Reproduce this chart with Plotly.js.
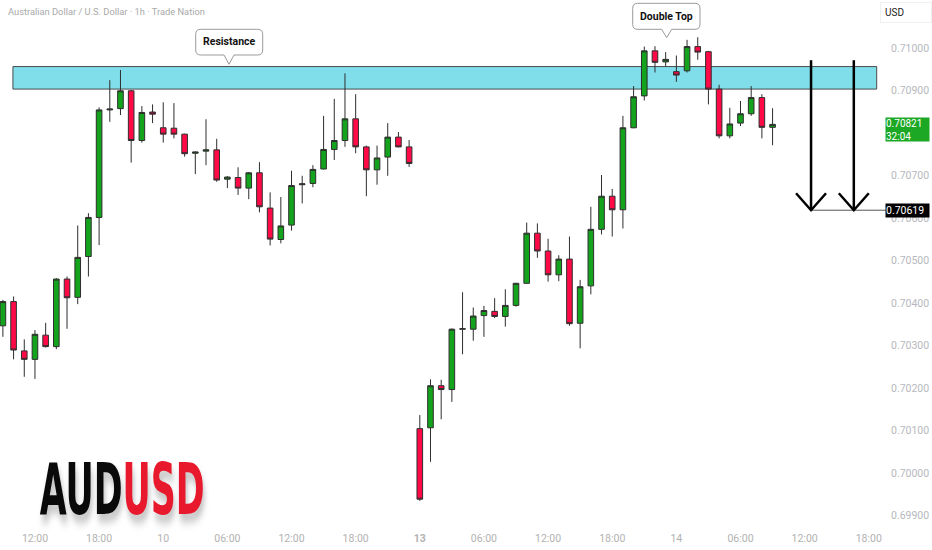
<!DOCTYPE html>
<html>
<head>
<meta charset="utf-8">
<script src="https://cdn.plot.ly/plotly-3.0.1.min.js"></script>
<style>
  html, body { margin: 0; padding: 0; background: #fff; }
  #chart { width: 932px; height: 550px; }
</style>
</head>
<body>
<div id="chart"></div>
<script>
// ---- data (hourly candles, AUD/USD 1h) ----
const opens = [0.70347,0.70404,0.70288,0.70268,0.70325,0.70298,0.70457,0.70414,0.70510,0.70602,
  0.70855,0.70858,0.70900,0.70783,0.70850,0.70813,0.70812,0.70798,0.70753,0.70758,
  0.70761,0.70692,0.70696,0.70671,0.70707,0.70624,0.70550,0.70584,0.70679,0.70682,
  0.70716,0.70762,0.70783,0.70834,0.70768,0.70714,0.70744,0.70791,0.70768,
  0.70105,0.70107,0.70206,0.70197,0.70339,0.70339,0.70371,0.70381,0.70369,0.70395,
  0.70447,0.70565,0.70523,0.70467,0.70504,0.70353,0.70441,0.70574,0.70652,0.70620,
  0.70813,0.70888,0.70994,0.70968,0.70945,0.70947,0.71004,0.70992,0.70904,0.70794,
  0.70824,0.70846,0.70884,0.70814];
const highs = [0.70408,0.70416,0.70315,0.70337,0.70354,0.70459,0.70463,0.70583,0.70612,0.70861,
  0.70925,0.70949,0.70902,0.70864,0.70868,0.70873,0.70871,0.70799,0.70757,0.70833,
  0.70787,0.70699,0.70720,0.70709,0.70732,0.70661,0.70650,0.70712,0.70700,0.70725,
  0.70841,0.70881,0.70941,0.70892,0.70771,0.70771,0.70824,0.70803,0.70784,
  0.70137,0.70221,0.70220,0.70341,0.70426,0.70390,0.70394,0.70412,0.70433,0.70448,
  0.70590,0.70588,0.70552,0.70513,0.70557,0.70455,0.70627,0.70702,0.70669,0.70841,
  0.70911,0.71004,0.71005,0.70991,0.70983,0.71020,0.71026,0.70994,0.70914,0.70860,
  0.70876,0.70911,0.70892,0.70859];
const lows = [0.70321,0.70268,0.70227,0.70222,0.70296,0.70292,0.70340,0.70398,0.70463,0.70537,
  0.70827,0.70843,0.70731,0.70778,0.70824,0.70778,0.70788,0.70745,0.70704,0.70725,
  0.70686,0.70671,0.70655,0.70645,0.70614,0.70536,0.70541,0.70571,0.70635,0.70673,
  0.70715,0.70737,0.70768,0.70753,0.70652,0.70679,0.70700,0.70767,0.70721,
  0.69935,0.70027,0.70127,0.70168,0.70280,0.70312,0.70321,0.70365,0.70345,0.70392,
  0.70446,0.70507,0.70451,0.70452,0.70347,0.70294,0.70421,0.70562,0.70557,0.70576,
  0.70812,0.70877,0.70943,0.70957,0.70921,0.70943,0.70973,0.70868,0.70788,0.70788,
  0.70817,0.70841,0.70788,0.70772];
const closes = [0.70404,0.70290,0.70268,0.70327,0.70298,0.70457,0.70413,0.70508,0.70602,0.70855,
  0.70857,0.70900,0.70783,0.70849,0.70845,0.70798,0.70798,0.70752,0.70756,0.70761,
  0.70690,0.70697,0.70671,0.70707,0.70627,0.70551,0.70582,0.70677,0.70681,0.70715,
  0.70762,0.70783,0.70834,0.70768,0.70714,0.70742,0.70791,0.70768,0.70729,
  0.69939,0.70206,0.70197,0.70339,0.70340,0.70370,0.70383,0.70369,0.70395,0.70447,
  0.70565,0.70523,0.70467,0.70504,0.70352,0.70439,0.70574,0.70652,0.70620,0.70813,
  0.70886,0.70994,0.70967,0.70974,0.70937,0.71004,0.70991,0.70904,0.70794,0.70822,
  0.70846,0.70884,0.70814,0.70821];
const firstHour = -3;                    // first candle: 09:00, three hours before the 12:00 tick
const hours = opens.map((_, k) => firstHour + k);

const tickHours = [0,6,12,18,24,30,36,42,48,54,60,66,72,78];
const tickLabels = ['12:00','18:00','10','06:00','12:00','18:00','<b>13</b>','06:00','12:00','18:00','14','06:00','12:00','18:00'];
const priceTicks = [0.699,0.700,0.701,0.702,0.703,0.704,0.705,0.706,0.707,0.709,0.710];

const zoneLow = 0.70904, zoneHigh = 0.70957;   // resistance band
const lastPrice = 0.70821, countdown = '32:04';
const targetPrice = 0.70619;
const arrowTop = 0.70972;
const arrowHours = [72.6, 76.6];

// ---- layout geometry ----
const W = 932, H = 550, mR = 52, mB = 20;
const PW = W - mR, PH = H - mB;
const xRange = [-3.27, 79.05];
const yRange = [0.698665, 0.7111365];
const px = x => x / PW;
const py = y => 1 - y / PH;
const perPx = (yRange[1] - yRange[0]) / PH;

function callout(x0, y0, x1, y1, tx, ty, r) {
  const p = (x, y) => px(x).toFixed(5) + ',' + py(y).toFixed(5);
  return 'M' + p(x0 + r, y0) + ' L' + p(x1 - r, y0) + ' Q' + p(x1, y0) + ' ' + p(x1, y0 + r) +
    ' L' + p(x1, y1 - r) + ' Q' + p(x1, y1) + ' ' + p(x1 - r, y1) +
    ' L' + p(tx + 5, y1) + ' L' + p(tx, ty) + ' L' + p(tx - 5, y1) +
    ' L' + p(x0 + r, y1) + ' Q' + p(x0, y1) + ' ' + p(x0, y1 - r) +
    ' L' + p(x0, y0 + r) + ' Q' + p(x0, y0) + ' ' + p(x0 + r, y0) + ' Z';
}

const shapes = [
  {type:'rect', xref:'x', yref:'y', x0:-2.06, x1:78.74, y0:zoneLow, y1:zoneHigh,
   fillcolor:'#80deea', line:{color:'#4a4a4a', width:1}, layer:'below'},
  {type:'path', xref:'paper', yref:'paper', path: callout(195.7, 29.3, 262.7, 55, 229, 64.3, 5),
   fillcolor:'#ffffff', line:{color:'#9a9a9a', width:1}},
  {type:'path', xref:'paper', yref:'paper', path: callout(632.7, 3.3, 700, 29.3, 666.7, 37.7, 5),
   fillcolor:'#ffffff', line:{color:'#9a9a9a', width:1}},
  {type:'line', xref:'paper', yref:'y', x0:px(811), x1:px(886), y0:targetPrice, y1:targetPrice,
   line:{color:'#555555', width:1}}
];
const headDX = 1.4, headDY = 17 * perPx;
arrowHours.forEach(h => {
  shapes.push({type:'line', xref:'x', yref:'y', x0:h, x1:h, y0:arrowTop, y1:targetPrice,
               line:{color:'#000000', width:2.5}});
  shapes.push({type:'path', xref:'x', yref:'y',
               path:'M' + (h - headDX) + ',' + (targetPrice + headDY) + ' L' + h + ',' + targetPrice + ' L' + (h + headDX) + ',' + (targetPrice + headDY),
               line:{color:'#000000', width:2.5}});
});

const annotations = [
  {xref:'paper', yref:'paper', x:px(6), y:py(12), xanchor:'left', yanchor:'middle', showarrow:false,
   text:'Australian Dollar / U.S. Dollar · 1h · Trade Nation', font:{family:'Roboto, sans-serif', size:9.3, color:'#a9a9a9'}},
  {xref:'paper', yref:'paper', x:px(229), y:py(42), xanchor:'center', yanchor:'middle', showarrow:false,
   text:'<b>Resistance</b>', font:{family:'Roboto, sans-serif', size:10.5, color:'#111111'}},
  {xref:'paper', yref:'paper', x:px(666.4), y:py(16.3), xanchor:'center', yanchor:'middle', showarrow:false,
   text:'<b>Double Top</b>', font:{family:'Roboto, sans-serif', size:10.5, color:'#111111'}},
  {xref:'paper', yref:'paper', x:px(880), y:py(12.5), xanchor:'left', yanchor:'middle', showarrow:false,
   text:'USD', font:{family:'Roboto, sans-serif', size:10, color:'#222222'},
   bgcolor:'#ffffff', bordercolor:'#f0f0f0', borderwidth:1, borderpad:4, width:42, align:'left'},
  {xref:'paper', yref:'y', x:px(885), y:lastPrice - 5 * perPx, xanchor:'left', yanchor:'middle', showarrow:false,
   text:lastPrice.toFixed(5) + '<br>' + countdown, font:{family:'Roboto, sans-serif', size:10, color:'#ffffff'},
   bgcolor:'#1ca824', borderpad:0, width:43, height:23, align:'left'},
  {xref:'paper', yref:'y', x:px(885), y:targetPrice, xanchor:'left', yanchor:'middle', showarrow:false,
   text:targetPrice.toFixed(5), font:{family:'Roboto, sans-serif', size:10.5, color:'#ffffff'},
   bgcolor:'#000000', borderpad:0, width:43, height:13, align:'left'},
  {xref:'paper', yref:'paper', x:px(122), y:py(488.5), xanchor:'center', yanchor:'middle', showarrow:false,
   text:'<b><span style="color:#0a0a0a">AUD</span><span style="color:#e8192c">USD</span></b>',
   font:{family:'"Liberation Sans Narrow", "DejaVu Sans Condensed", Arial Narrow, sans-serif', size:46, color:'#000'}}
];

const trace = {
  type:'candlestick', x:hours, open:opens, high:highs, low:lows, close:closes,
  increasing:{line:{color:'#2e2e2e', width:1}, fillcolor:'#14a31c'},
  decreasing:{line:{color:'#2e2e2e', width:1}, fillcolor:'#ff0a47'},
  whiskerwidth:0, hoverinfo:'skip', showlegend:false
};

const layout = {
  width:W, height:H, margin:{l:0, r:mR, t:0, b:mB},
  paper_bgcolor:'#ffffff', plot_bgcolor:'#ffffff', showlegend:false, boxgap:0.25,
  font:{family:'Roboto, sans-serif'},
  xaxis:{range:xRange, tickvals:tickHours, ticktext:tickLabels, showgrid:false, zeroline:false,
         showline:false, ticks:'', tickfont:{size:10.5, color:'#b2b2b2'}, rangeslider:{visible:false},
         fixedrange:true},
  yaxis:{range:yRange, side:'right', tickvals:priceTicks, tickformat:'.5f', showgrid:false, zeroline:false,
         showline:false, ticks:'', ticklabelstandoff:10, tickfont:{size:10.5, color:'#b6b8bd'}, fixedrange:true},
  shapes:shapes, annotations:annotations
};

Plotly.newPlot('chart', [trace], layout, {displayModeBar:false, staticPlot:true}).then(gd => {
  gd.querySelectorAll('text.annotation-text').forEach(t => {
    if (t.textContent === 'AUDUSD') {
      t.style.transformBox = 'fill-box';
      t.style.transformOrigin = 'center';
      t.style.transform = 'scale(0.84, 1.55)';
      t.style.filter = 'drop-shadow(2px 5px 3px rgba(0,0,0,0.25))';
    }
  });
});
</script>
</body>
</html>
